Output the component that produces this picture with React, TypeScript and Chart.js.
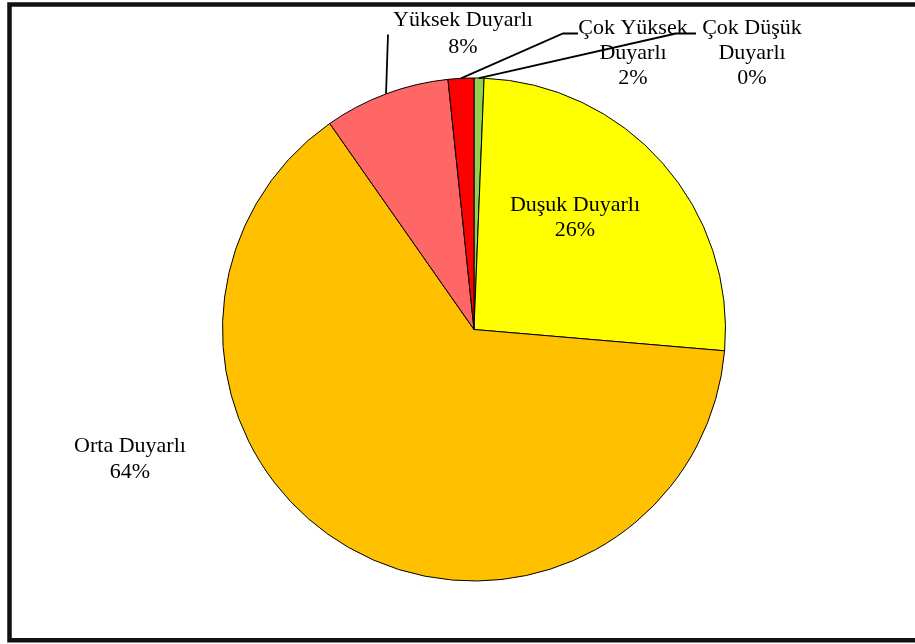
import React, { useEffect, useRef } from "react";
import { Chart, registerables } from "chart.js";

Chart.register(...registerables);

const categories = ["Çok Düşük Duyarlı", "Duşuk Duyarlı", "Orta Duyarlı", "Yüksek Duyarlı", "Çok Yüksek Duyarlı"];
const values = [0.64, 25.7, 63.9, 8.07, 1.65];
const percentLabels = ["0%", "26%", "64%", "8%", "2%"];
const labelLines = [["Çok Düşük", "Duyarlı"], ["Duşuk Duyarlı"], ["Orta Duyarlı"], ["Yüksek Duyarlı"], ["Çok Yüksek", "Duyarlı"]];
const colors = ["#92D050", "#FFFF00", "#FFC000", "#FF6666", "#FF0000"];

// label placement relative to pie center (in px), line height, leader elbow (dx, dy, horizontal end dx) or null
const labelLayout = [
  { dx: 278, dy: -301, lh: 25, leader: [202, -296, 222] },
  { dx: 101, dy: -124, lh: 25, leader: null },
  { dx: -344, dy: 117, lh: 26, leader: null },
  { dx: -11, dy: -309, lh: 27, leader: [-86, -295, -86] },
  { dx: 159, dy: -301, lh: 25, leader: [89, -296, 104] },
];

const FONT = "22px 'Liberation Serif', 'DejaVu Serif', serif";

const framePlugin = {
  id: "frame",
  afterDraw(chart: any) {
    const ctx = chart.ctx;
    ctx.save();
    ctx.strokeStyle = "#111";
    ctx.lineWidth = 4.5;
    ctx.beginPath();
    ctx.moveTo(960, 4.5);
    ctx.lineTo(9.5, 4.5);
    ctx.lineTo(9.5, 640.3);
    ctx.lineTo(960, 640.3);
    ctx.stroke();
    ctx.restore();
  },
};

const labelPlugin = {
  id: "pieLabels",
  afterDatasetsDraw(chart: any) {
    const ctx = chart.ctx;
    const meta = chart.getDatasetMeta(0);
    ctx.save();
    ctx.font = FONT;
    ctx.fillStyle = "#000";
    ctx.textAlign = "center";
    ctx.textBaseline = "middle";
    meta.data.forEach((arc: any, i: number) => {
      const p = arc.getProps(["x", "y", "startAngle", "endAngle", "outerRadius"], true);
      const L = labelLayout[i];
      const lines = [...labelLines[i], percentLabels[i]];
      const cx = p.x + L.dx;
      lines.forEach((t, k) => {
        ctx.fillText(t, cx, p.y + L.dy + k * L.lh);
      });
      if (L.leader) {
        const mid = (p.startAngle + p.endAngle) / 2;
        const ax = p.x + Math.cos(mid) * p.outerRadius;
        const ay = p.y + Math.sin(mid) * p.outerRadius;
        ctx.strokeStyle = "#000";
        ctx.lineWidth = 1.8;
        ctx.beginPath();
        ctx.moveTo(ax, ay);
        ctx.lineTo(p.x + L.leader[0], p.y + L.leader[1]);
        ctx.lineTo(p.x + L.leader[2], p.y + L.leader[1]);
        ctx.stroke();
      }
    });
    ctx.restore();
  },
};

export default function App() {
  const ref = useRef<HTMLCanvasElement>(null);
  useEffect(() => {
    if (!ref.current) return;
    const chart = new Chart(ref.current, {
      type: "pie",
      data: {
        labels: categories,
        datasets: [
          {
            data: values,
            backgroundColor: colors,
            borderColor: "#000",
            borderWidth: 1,
          },
        ],
      },
      options: {
        responsive: false,
        animation: false,
        layout: { padding: { left: 222, right: 189, top: 77, bottom: 62 } },
        plugins: {
          legend: { display: false },
          tooltip: { enabled: false },
        },
      },
      plugins: [framePlugin, labelPlugin],
    });
    return () => chart.destroy();
  }, []);
  return (
    <div style={{ position: "absolute", left: 0, top: 0, width: 915, height: 644, background: "#fff" }}>
      <canvas ref={ref} width={915} height={644} />
    </div>
  );
}
